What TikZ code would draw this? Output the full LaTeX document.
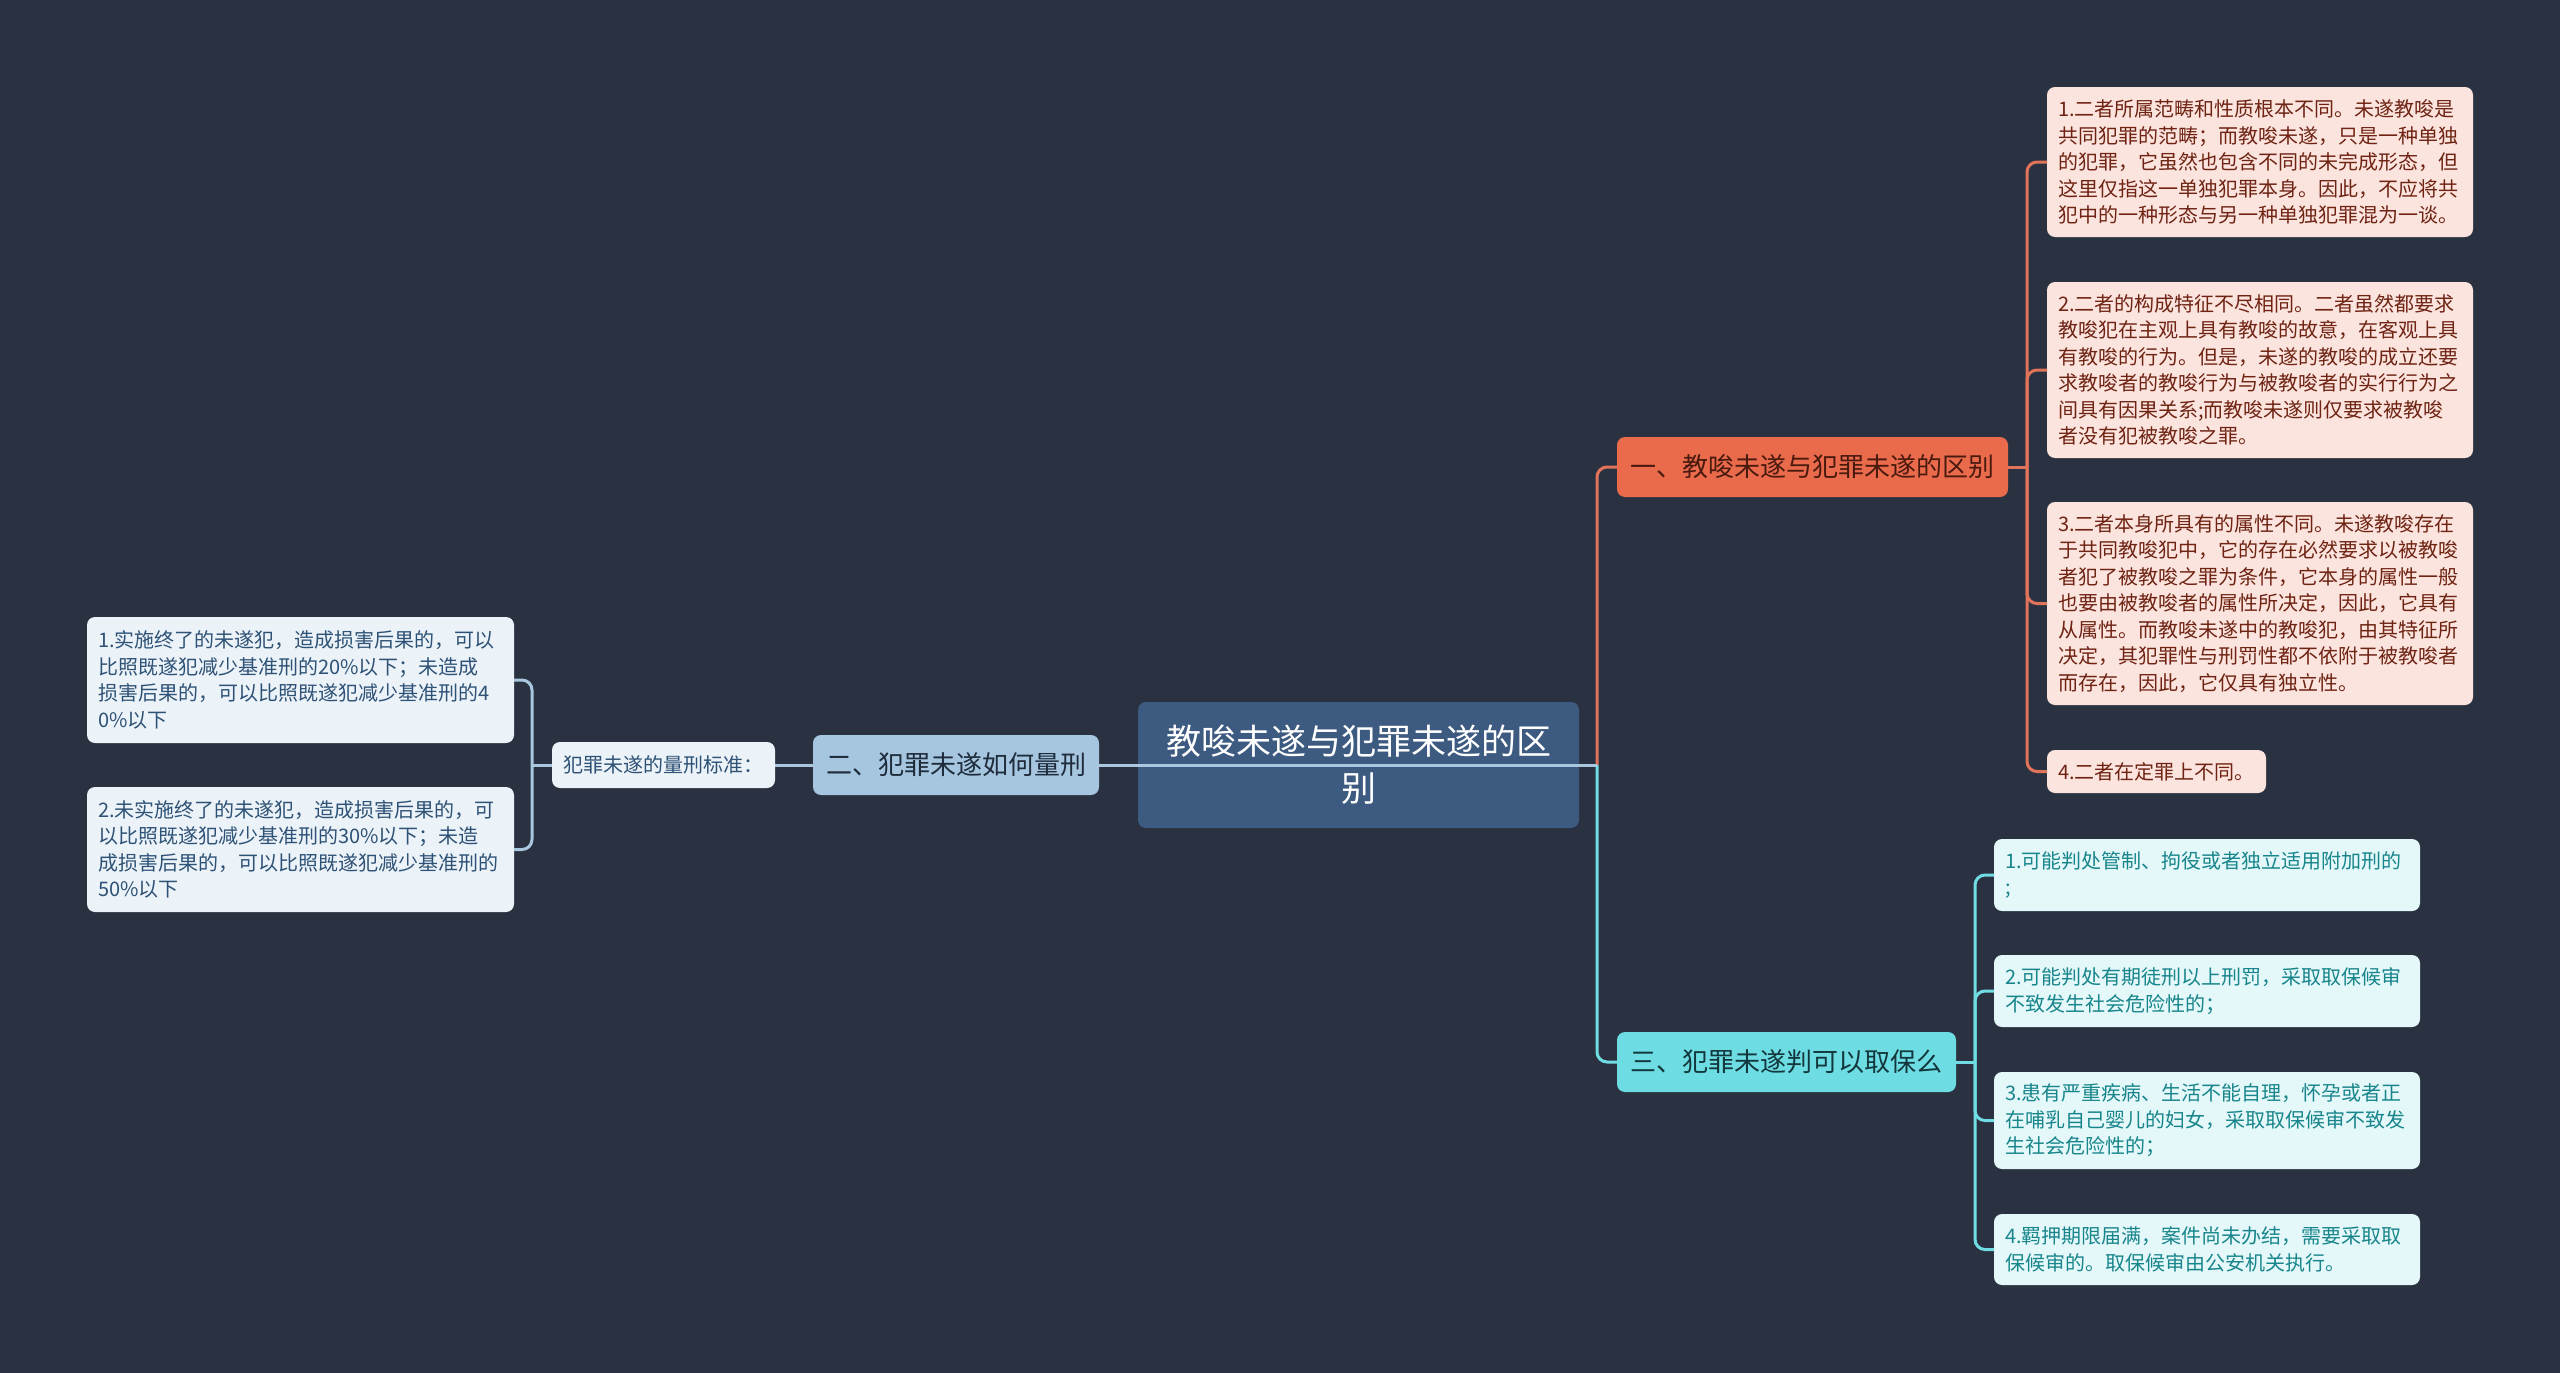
\documentclass[tikz,border=0pt]{standalone}
\usepackage{fontspec}
\setmainfont{Noto Sans CJK SC}
\definecolor{bgc}{HTML}{2A3241}
\definecolor{centerfill}{HTML}{3D5A80}
\definecolor{orangefill}{HTML}{EA6A4C}
\definecolor{orangetext}{HTML}{4A1A0E}
\definecolor{orangeleaf}{HTML}{FCE4DE}
\definecolor{orangeleaftext}{HTML}{6E2313}
\definecolor{orangeline}{HTML}{E0735A}
\definecolor{bluefill}{HTML}{A6C5DF}
\definecolor{bluetext}{HTML}{1E2C3B}
\definecolor{blueleaf}{HTML}{EBF2F8}
\definecolor{blueleaftext}{HTML}{2E5276}
\definecolor{blueline}{HTML}{A9C8E0}
\definecolor{cyanfill}{HTML}{6EDCE3}
\definecolor{cyantext}{HTML}{12373C}
\definecolor{cyanleaf}{HTML}{E4F8F9}
\definecolor{cyanleaftext}{HTML}{17858B}
\definecolor{cyanline}{HTML}{70DCE3}
\newcommand{\setfs}[2]{\fontsize{#1}{#2}\selectfont}
\begin{document}
\begin{tikzpicture}[x=1pt,y=-1pt,
  boxbase/.style={rounded corners=8pt, inner ysep=0pt, outer sep=0pt},
  centerbox/.style={boxbase, fill=centerfill, text=white, align=center,
    minimum width=441pt, minimum height=126pt, inner xsep=0pt, font=\setfs{35}{47}},
  branchbox/.style={boxbase, minimum height=60pt, inner xsep=0pt, align=center, font=\setfs{26}{32}},
  leafbox/.style={boxbase, align=left, inner xsep=11pt, font=\setfs{20}{26.5}},
  oleaf/.style={leafbox, fill=orangeleaf, text=orangeleaftext},
  cleaf/.style={leafbox, fill=cyanleaf, text=cyanleaftext},
  bleaf/.style={leafbox, fill=blueleaf, text=blueleaftext},
  conn/.style={line width=3pt, rounded corners=10pt},
  oconn/.style={conn, draw=orangeline},
  cconn/.style={conn, draw=cyanline},
  bconn/.style={conn, draw=blueline}
]
\fill[bgc] (0,0) rectangle (2560,1373);
\useasboundingbox (0,0) rectangle (2560,1373);

% central
\node[centerbox] (c) at (1358.5,765) {教唆未遂与犯罪未遂的区\\别};

% branches
\node[branchbox, fill=orangefill, text=orangetext, minimum width=391pt]
  (b1) at (1812.5,467) {一、教唆未遂与犯罪未遂的区别};
\node[branchbox, fill=bluefill, text=bluetext, minimum width=286pt]
  (b2) at (956,765) {二、犯罪未遂如何量刑};
\node[branchbox, fill=cyanfill, text=cyantext, minimum width=339pt]
  (b3) at (1786.5,1062) {三、犯罪未遂判可以取保么};

% orange leaves
\node[oleaf, text width=404pt, minimum height=150pt] (o1) at (2260,162) {1.二者所属范畴和性质根本不同。未遂教唆是\\共同犯罪的范畴；而教唆未遂，只是一种单独\\的犯罪，它虽然也包含不同的未完成形态，但\\这里仅指这一单独犯罪本身。因此，不应将共\\犯中的一种形态与另一种单独犯罪混为一谈。};
\node[oleaf, text width=404pt, minimum height=176pt] (o2) at (2260,370) {2.二者的构成特征不尽相同。二者虽然都要求\\教唆犯在主观上具有教唆的故意，在客观上具\\有教唆的行为。但是，未遂的教唆的成立还要\\求教唆者的教唆行为与被教唆者的实行行为之\\间具有因果关系;而教唆未遂则仅要求被教唆\\者没有犯被教唆之罪。};
\node[oleaf, text width=404pt, minimum height=203pt] (o3) at (2260,603.5) {3.二者本身所具有的属性不同。未遂教唆存在\\于共同教唆犯中，它的存在必然要求以被教唆\\者犯了被教唆之罪为条件，它本身的属性一般\\也要由被教唆者的属性所决定，因此，它具有\\从属性。而教唆未遂中的教唆犯，由其特征所\\决定，其犯罪性与刑罚性都不依附于被教唆者\\而存在，因此，它仅具有独立性。};
\node[oleaf, text width=197pt, minimum height=43pt] (o4) at (2156.5,771.5) {4.二者在定罪上不同。};

% cyan leaves
\node[cleaf, text width=404pt, minimum height=72pt] (q1) at (2207,875) {1.可能判处管制、拘役或者独立适用附加刑的\\;};
\node[cleaf, text width=404pt, minimum height=72pt] (q2) at (2207,991) {2.可能判处有期徒刑以上刑罚，采取取保候审\\不致发生社会危险性的；};
\node[cleaf, text width=404pt, minimum height=97pt] (q3) at (2207,1120.5) {3.患有严重疾病、生活不能自理，怀孕或者正\\在哺乳自己婴儿的妇女，采取取保候审不致发\\生社会危险性的；};
\node[cleaf, text width=404pt, minimum height=71pt] (q4) at (2207,1249.5) {4.羁押期限届满，案件尚未办结，需要采取取\\保候审的。取保候审由公安机关执行。};

% left side
\node[bleaf, text width=201pt, minimum height=46pt] (std) at (663.5,765) {犯罪未遂的量刑标准：};
\node[bleaf, text width=405pt, minimum height=126pt] (l1) at (300.5,680) {1.实施终了的未遂犯，造成损害后果的，可以\\比照既遂犯减少基准刑的20\%以下；未造成\\损害后果的，可以比照既遂犯减少基准刑的4\\0\%以下};
\node[bleaf, text width=405pt, minimum height=125pt] (l2) at (300.5,849.5) {2.未实施终了的未遂犯，造成损害后果的，可\\以比照既遂犯减少基准刑的30\%以下；未造\\成损害后果的，可以比照既遂犯减少基准刑的\\50\%以下};

% bus points
\coordinate (busR) at (1597,765);
\coordinate (busO) at (2027,467);
\coordinate (busC) at (1975,1062);
\coordinate (busL) at (532,765);

% connectors
\draw[oconn] (busR) |- (b1.west);
\draw[cconn] (busR) |- (b3.west);
\draw[bconn] (busR) -- (b2.east);
\draw[bconn] (b2.west) -- (std.east);
\draw[bconn] (std.west) -- (busL);
\draw[bconn] (busL) |- (l1.east);
\draw[bconn] (busL) |- (l2.east);

\draw[oconn] (b1.east) -- (busO);
\foreach \n in {o1,o2,o3,o4} {\draw[oconn] (busO) |- (\n.west);}

\draw[cconn] (b3.east) -- (busC);
\foreach \n in {q1,q2,q3,q4} {\draw[cconn] (busC) |- (\n.west);}
\end{tikzpicture}
\end{document}
